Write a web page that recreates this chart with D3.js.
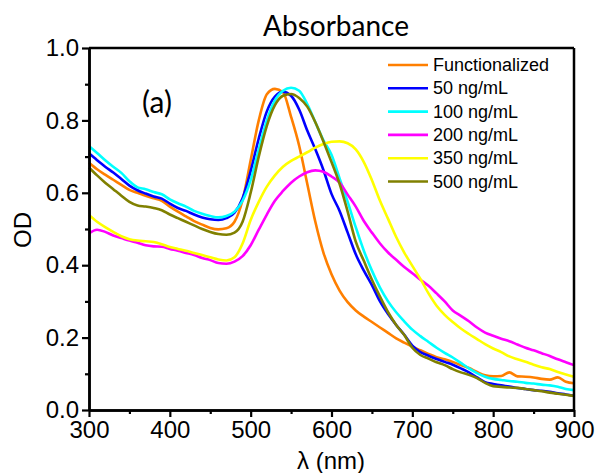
<!DOCTYPE html>
<html>
<head>
<meta charset="utf-8">
<script src="https://cdn.jsdelivr.net/npm/d3@7"></script>
<style>
  body { margin: 0; background: #fff; }
  svg { display: block; }
</style>
</head>
<body>
<svg width="596" height="473"></svg>
<script>
// wavelengths (nm), 10 nm steps
const wavelengths = d3.range(300, 901, 10);

const seriesNames = ["Functionalized", "50 ng/mL", "100 ng/mL", "200 ng/mL", "350 ng/mL", "500 ng/mL"];
const seriesColors = ["#ff7f00", "#0000ff", "#00ffff", "#ff00ff", "#ffff00", "#808000"];

const functionalized = [
    0.683, 0.665, 0.650, 0.636, 0.622, 0.608, 0.600, 0.592, 0.585, 0.578,
    0.562, 0.548, 0.535, 0.522, 0.512, 0.503, 0.499, 0.502, 0.520, 0.580,
    0.690, 0.800, 0.872, 0.887, 0.878, 0.810, 0.730, 0.625, 0.520, 0.435,
    0.375, 0.330, 0.298, 0.275, 0.258, 0.243, 0.228, 0.213, 0.198, 0.186,
    0.175, 0.165, 0.155, 0.146, 0.140, 0.133, 0.124, 0.116, 0.105, 0.096,
    0.093, 0.094, 0.104, 0.093, 0.092, 0.090, 0.086, 0.084, 0.090, 0.078,
    0.074
];
const ng50 = [
    0.709, 0.690, 0.672, 0.656, 0.638, 0.620, 0.607, 0.598, 0.590, 0.584,
    0.570, 0.558, 0.550, 0.540, 0.532, 0.527, 0.525, 0.530, 0.545, 0.585,
    0.660, 0.750, 0.825, 0.866, 0.879, 0.868, 0.830, 0.772, 0.720, 0.663,
    0.597, 0.550, 0.490, 0.430, 0.385, 0.345, 0.300, 0.265, 0.235, 0.208,
    0.178, 0.160, 0.150, 0.141, 0.133, 0.125, 0.115, 0.104, 0.090, 0.077,
    0.072, 0.068, 0.065, 0.061, 0.058, 0.055, 0.053, 0.050, 0.046, 0.043,
    0.039
];
const ng100 = [
    0.729, 0.710, 0.690, 0.672, 0.655, 0.632, 0.615, 0.610, 0.602, 0.596,
    0.582, 0.571, 0.562, 0.550, 0.542, 0.536, 0.532, 0.536, 0.548, 0.578,
    0.635, 0.720, 0.800, 0.855, 0.882, 0.890, 0.882, 0.845, 0.795, 0.745,
    0.705, 0.640, 0.575, 0.505, 0.440, 0.385, 0.338, 0.300, 0.270, 0.245,
    0.222, 0.204, 0.188, 0.172, 0.158, 0.145, 0.130, 0.115, 0.102, 0.092,
    0.086, 0.083, 0.080, 0.078, 0.075, 0.073, 0.070, 0.068, 0.064, 0.058,
    0.055
];
const ng200 = [
    0.488, 0.498, 0.492, 0.482, 0.475, 0.468, 0.462, 0.455, 0.452, 0.451,
    0.445, 0.440, 0.434, 0.428, 0.420, 0.414, 0.406, 0.404, 0.410, 0.425,
    0.455, 0.498, 0.540, 0.578, 0.605, 0.628, 0.645, 0.657, 0.662, 0.658,
    0.645, 0.628, 0.595, 0.562, 0.522, 0.490, 0.460, 0.435, 0.415, 0.395,
    0.378, 0.360, 0.343, 0.322, 0.300, 0.275, 0.260, 0.245, 0.228, 0.214,
    0.205, 0.197, 0.190, 0.181, 0.172, 0.165, 0.157, 0.149, 0.140, 0.132,
    0.124
];
const ng350 = [
    0.539, 0.520, 0.505, 0.492, 0.480, 0.472, 0.468, 0.466, 0.464, 0.458,
    0.450, 0.445, 0.440, 0.434, 0.428, 0.422, 0.416, 0.413, 0.422, 0.460,
    0.525, 0.575, 0.617, 0.648, 0.672, 0.688, 0.700, 0.712, 0.725, 0.735,
    0.741, 0.742, 0.737, 0.720, 0.685, 0.635, 0.578, 0.528, 0.478, 0.435,
    0.398, 0.362, 0.322, 0.288, 0.263, 0.243, 0.225, 0.210, 0.196, 0.182,
    0.170, 0.160, 0.148, 0.140, 0.133, 0.125, 0.118, 0.113, 0.105, 0.098,
    0.092
];
const ng500 = [
    0.670, 0.648, 0.628, 0.610, 0.592, 0.575, 0.565, 0.562, 0.558, 0.552,
    0.540, 0.530, 0.520, 0.510, 0.500, 0.492, 0.486, 0.484, 0.490, 0.520,
    0.600, 0.700, 0.785, 0.842, 0.868, 0.873, 0.862, 0.838, 0.795, 0.742,
    0.685, 0.625, 0.548, 0.465, 0.412, 0.360, 0.313, 0.270, 0.235, 0.207,
    0.172, 0.152, 0.142, 0.132, 0.124, 0.113, 0.104, 0.097, 0.088, 0.075,
    0.066, 0.064, 0.062, 0.061, 0.058, 0.055, 0.052, 0.048, 0.045, 0.042,
    0.039
];

const seriesValues = [functionalized, ng50, ng100, ng200, ng350, ng500];

const xTicks = [300, 400, 500, 600, 700, 800, 900];
const xMinor = [350, 450, 550, 650, 750, 850];
const yTicks = [0.0, 0.2, 0.4, 0.6, 0.8, 1.0];
const yMinor = [0.1, 0.3, 0.5, 0.7, 0.9];

const attr = {
    width: 596,
    height: 473,
    left: 89,
    top: 48,
    right: 22,
    bottom: 63
};
const innerW = attr.width - attr.left - attr.right;
const innerH = attr.height - attr.top - attr.bottom;

const svg = d3.select("svg");

const scX = d3.scaleLinear().domain([300, 900]).range([0, innerW]);
const scY = d3.scaleLinear().domain([0, 1]).range([innerH, 0]);

const plot = svg.append("g")
    .attr("transform", `translate(${attr.left},${attr.top})`);

// curves
const line = d3.line()
    .x((d, i) => scX(wavelengths[i]))
    .y(d => scY(d))
    .curve(d3.curveMonotoneX);

seriesValues.forEach((vals, k) => {
    plot.append("path")
        .datum(vals)
        .attr("fill", "none")
        .attr("stroke", seriesColors[k])
        .attr("stroke-width", 2.6)
        .attr("stroke-linejoin", "round")
        .attr("d", line);
});

// axes
const axisFont = "'Liberation Sans', Arial, sans-serif";

plot.append("g")
    .attr("transform", `translate(0,${innerH})`)
    .call(d3.axisBottom(scX).tickValues(xTicks).tickSize(7).tickPadding(4).tickSizeOuter(0));
plot.append("g")
    .attr("transform", `translate(0,${innerH})`)
    .call(d3.axisBottom(scX).tickValues(xMinor).tickSize(4).tickFormat("").tickSizeOuter(0));

plot.append("g")
    .call(d3.axisLeft(scY).tickValues(yTicks).tickSize(7).tickPadding(3)
        .tickFormat(d3.format(".1f")).tickSizeOuter(0));
plot.append("g")
    .call(d3.axisLeft(scY).tickValues(yMinor).tickSize(4).tickFormat("").tickSizeOuter(0));

plot.selectAll(".domain").attr("stroke", "#000").attr("stroke-width", 2.5);
plot.selectAll(".tick line").attr("stroke", "#000").attr("stroke-width", 2.2);
plot.selectAll(".tick text")
    .attr("fill", "#000")
    .style("font-family", axisFont)
    .style("font-size", "24px");

// top and right frame
plot.append("line")
    .attr("x1", 0).attr("x2", innerW).attr("y1", 0).attr("y2", 0)
    .attr("stroke", "#000").attr("stroke-width", 2.5);
plot.append("line")
    .attr("x1", innerW).attr("x2", innerW).attr("y1", 0).attr("y2", innerH)
    .attr("stroke", "#000").attr("stroke-width", 2.5);

// titles
svg.append("text")
    .attr("x", 336)
    .attr("y", 36)
    .attr("text-anchor", "middle")
    .style("font-family", "Lato, 'Open Sans', sans-serif")
    .style("font-size", "28px")
    .text("Absorbance");

svg.append("text")
    .attr("x", 157)
    .attr("y", 113)
    .attr("text-anchor", "middle")
    .style("font-family", "Lato, 'Open Sans', sans-serif")
    .style("font-size", "30px")
    .text("(a)");

svg.append("text")
    .attr("x", 331)
    .attr("y", 469)
    .attr("text-anchor", "middle")
    .style("font-family", axisFont)
    .style("font-size", "24px")
    .text("λ (nm)");

svg.append("text")
    .attr("transform", "translate(31,230) rotate(-90)")
    .attr("text-anchor", "middle")
    .style("font-family", axisFont)
    .style("font-size", "24px")
    .text("OD");

// legend
const legend = svg.append("g")
    .attr("transform", "translate(388,65)");

seriesNames.forEach((name, k) => {
    const row = legend.append("g")
        .attr("transform", `translate(0,${k * 23.3})`);
    row.append("line")
        .attr("x1", 0).attr("x2", 40)
        .attr("y1", 0).attr("y2", 0)
        .attr("stroke", seriesColors[k])
        .attr("stroke-width", 2.6);
    row.append("text")
        .attr("x", 45)
        .attr("y", 6)
        .style("font-family", axisFont)
        .style("font-size", "18px")
        .text(name);
});
</script>
</body>
</html>
